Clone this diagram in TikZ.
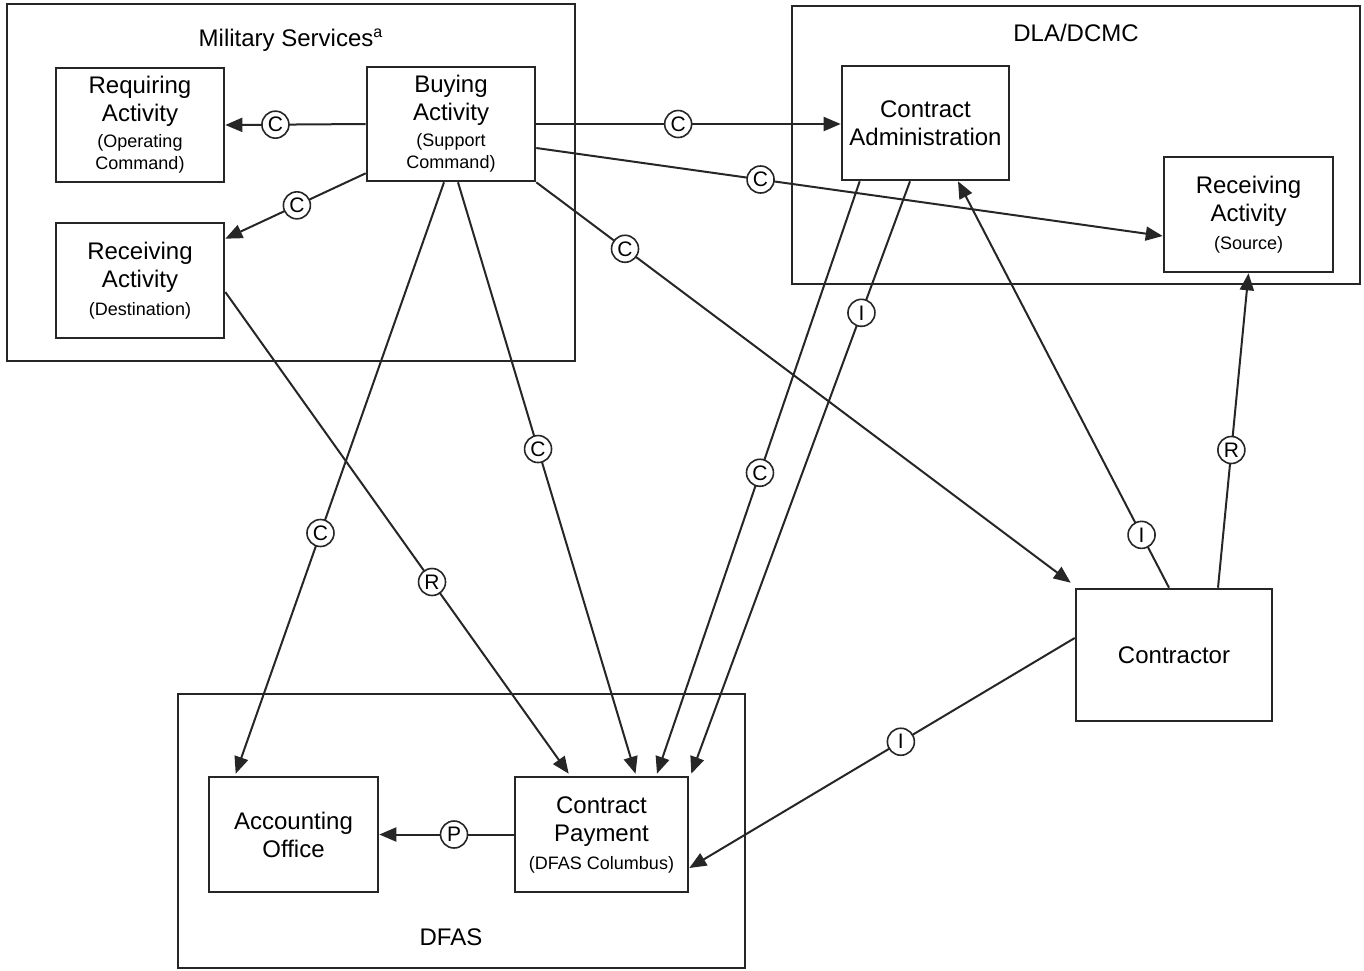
\documentclass[tikz,border=0pt]{standalone}
\usepackage{fontspec}
\setmainfont{Liberation Sans}
\usetikzlibrary{arrows.meta}
\begin{document}
\begin{tikzpicture}[x=0.5pt,y=-0.5pt,
  group/.style={draw=black!85,line width=1.3pt},
  box/.style={draw=black!85,line width=1.3pt,fill=white,align=center,inner sep=0pt,
    font=\fontsize{12}{14}\selectfont},
  conn/.style={draw=black!85,line width=1pt,-{Triangle[length=8.5pt,width=7pt]}},
  lab/.style={circle,draw=black!85,line width=0.8pt,fill=white,inner sep=0pt,
    minimum size=13.5pt,font=\fontsize{10.5}{11}\selectfont},
  ttl/.style={font=\fontsize{12}{14}\selectfont}]
\useasboundingbox (0,0) rectangle (1364,970);
% group boxes
\draw[group] (7,4) rectangle (575,361);
\draw[group] (792,6) rectangle (1360,284);
\draw[group] (178,694) rectangle (745,968);
\node[ttl] (tms) at (291,40) {Military Services\textsuperscript{a}};
\node[ttl] (tdla) at (1076,33) {DLA/DCMC};
\node[ttl] (tdfas) at (451,937) {DFAS};
% nodes
\node[box,minimum width=84pt,minimum height=57pt] (req) at (140,125)
  {Requiring\\Activity\\[-1pt]{\fontsize{9}{10.5}\selectfont (Operating}\\[-3pt]{\fontsize{9}{10.5}\selectfont Command)}};
\node[box,minimum width=84pt,minimum height=57pt] (buy) at (451,124)
  {Buying\\Activity\\[-1pt]{\fontsize{9}{10.5}\selectfont (Support}\\[-3pt]{\fontsize{9}{10.5}\selectfont Command)}};
\node[box,minimum width=84pt,minimum height=57.5pt] (recd) at (140,280.5)
  {Receiving\\Activity\\{\fontsize{9}{10.5}\selectfont (Destination)}};
\node[box,minimum width=83.5pt,minimum height=57pt] (ca) at (925.5,123)
  {Contract\\Administration};
\node[box,minimum width=84.5pt,minimum height=57.5pt] (rs) at (1248.5,214.5)
  {Receiving\\Activity\\{\fontsize{9}{10.5}\selectfont (Source)}};
\node[box,minimum width=98pt,minimum height=66pt] (ctr) at (1174,655) {Contractor};
\node[box,minimum width=84.5pt,minimum height=57.5pt] (acc) at (293.5,834.5)
  {Accounting\\Office};
\node[box,minimum width=86.5pt,minimum height=57.5pt] (cp) at (601.5,834.5)
  {Contract\\Payment\\{\fontsize{9}{10.5}\selectfont (DFAS Columbus)}};
% connectors
\draw[conn] (buy.west) -- node[lab,pos=0.643]{C} (req.east);
\draw[conn] ([yshift=4.5pt]buy.south west) -- node[lab,pos=0.49]{C} ([yshift=-8.5pt]recd.north east);
\draw[conn] (buy.east) -- node[lab,pos=0.466]{C} (buy.east -| ca.west);
\draw[conn] ([yshift=-12pt]buy.east) -- node[lab,pos=0.358]{C} ([yshift=-10.75pt]rs.west);
\draw[conn] (buy.south east) -- node[lab,pos=0.166]{C} ([xshift=-2pt,yshift=2.5pt]ctr.north west);
\draw[conn] ([xshift=-3.5pt]buy.south) -- node[lab,pos=0.593]{C} ([xshift=14pt,yshift=1pt]acc.north west);
\draw[conn] ([xshift=3.5pt]buy.south) -- node[lab,pos=0.451]{C} ([xshift=17pt,yshift=1pt]cp.north);
\draw[conn] ([yshift=-5.75pt]recd.east) -- node[lab,pos=0.602]{R} ([xshift=27.5pt,yshift=1pt]cp.north west);
\draw[conn] ([xshift=9.5pt]ca.south west) -- node[lab,pos=0.492]{C} ([xshift=27.75pt,yshift=1pt]cp.north);
\draw[conn] ([xshift=-7.75pt]ca.south) -- node[lab,pos=0.222]{I} ([xshift=1pt,yshift=1pt]cp.north east);
\draw[conn] ([xshift=-2.5pt]ctr.north) -- node[lab,pos=0.13]{I} ([xshift=16.25pt]ca.south);
\draw[conn] ([xshift=22pt]ctr.north) -- node[lab,pos=0.438]{R} (rs.south);
\draw[conn] ([yshift=8.5pt]ctr.west) -- node[lab,pos=0.451]{I} ([yshift=-16.75pt]cp.east);
\draw[conn] (cp.west) -- node[lab,pos=0.444]{P} (acc.east);
\end{tikzpicture}
\end{document}
